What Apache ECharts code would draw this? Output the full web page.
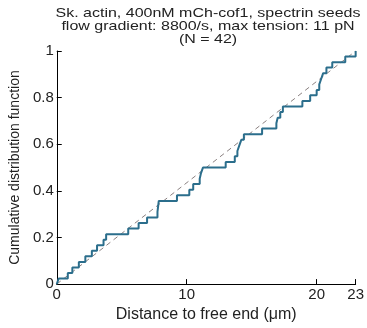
<!DOCTYPE html>
<html><head><meta charset="utf-8">
<script src="https://cdn.jsdelivr.net/npm/echarts@6/dist/echarts.min.js"></script>
<style>html,body{margin:0;padding:0;background:#fff}#c{width:367px;height:328px}</style>
</head><body><div id="c"></div>
<script>
// ECDF step positions (distance, µm) and cumulative fraction after each step
const stepX = [0, 0.15, 0.85, 1.2, 1.7, 2.2, 2.7, 3.1, 3.6, 3.8, 5.5, 6.3, 6.95, 7.75, 7.8, 7.85,
  9.25, 10.2, 10.5, 11.0, 11.1, 11.25, 13.0, 13.7, 13.9, 14.05, 14.2, 14.4, 15.8, 16.9, 17.0,
  17.2, 17.4, 18.9, 19.5, 20.0, 20.2, 20.35, 20.5, 20.75, 21.2, 22.2, 23.0];
const stepY = [0, 0.024, 0.048, 0.071, 0.095, 0.119, 0.143, 0.167, 0.190, 0.214, 0.238, 0.262,
  0.286, 0.310, 0.333, 0.357, 0.381, 0.405, 0.429, 0.452, 0.476, 0.500, 0.524, 0.548, 0.571,
  0.595, 0.619, 0.643, 0.667, 0.690, 0.714, 0.738, 0.762, 0.786, 0.810, 0.833, 0.857, 0.881,
  0.905, 0.929, 0.952, 0.976, 1.0];
const refX = [0, 23];
const refY = [0, 1];
const xTicks = [0, 10, 20, 23];
const titleLines = ['Sk. actin, 400nM mCh-cof1, spectrin seeds', 'flow gradient: 8800/s, max tension: 11 pN', '(N = 42)'];

const chart = echarts.init(document.getElementById('c'), null, {renderer: 'canvas'});
const font = 'Liberation Sans, Arial, sans-serif';
chart.setOption({
  animation: false,
  grid: {left: 54, right: 7, top: 51, bottom: 42, containLabel: false},
  graphic: [{
    type: 'text', x: 208, y: 7, scaleY: 0.85,
    style: {text: titleLines.join('\n'), fontFamily: font, fontSize: 16, lineHeight: 15,
      fill: '#222', align: 'center', verticalAlign: 'top'}
  }],
  xAxis: {
    type: 'value', min: 0, max: 23,
    name: 'Distance to free end (μm)', nameLocation: 'middle', nameGap: 19,
    nameTextStyle: {fontFamily: font, fontSize: 16, color: '#222'},
    axisLine: {lineStyle: {color: '#000', width: 1}},
    axisTick: {inside: true, length: 5, customValues: xTicks, lineStyle: {color: '#000'}},
    axisLabel: {customValues: xTicks, fontFamily: font, fontSize: 15, color: '#222', margin: 3},
    splitLine: {show: false}
  },
  yAxis: {
    type: 'value', min: 0, max: 1, interval: 0.2,
    name: 'Cumulative distribution function', nameLocation: 'middle', nameGap: 28,
    nameTextStyle: {fontFamily: font, fontSize: 14, color: '#222'},
    axisLine: {show: true, lineStyle: {color: '#000', width: 1}},
    axisTick: {show: true, inside: true, length: 5, lineStyle: {color: '#000'}},
    axisLabel: {fontFamily: font, fontSize: 15, color: '#222', margin: 3},
    splitLine: {show: false}
  },
  series: [{
    type: 'line', data: refX.map((x, i) => [x, refY[i]]), symbol: 'none',
    lineStyle: {color: '#8a8080', width: 1, type: [5, 4]}, z: 1
  }, {
    type: 'line', step: 'end', data: stepX.map((x, i) => [x, stepY[i]]), symbol: 'none',
    lineStyle: {color: '#2b6e8c', width: 2}, z: 2
  }]
});
</script></body></html>
